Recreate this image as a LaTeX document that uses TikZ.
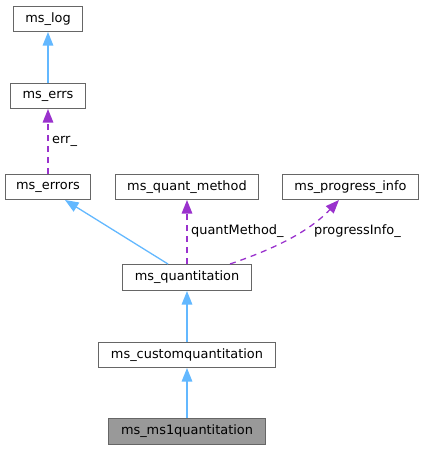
\documentclass[tikz,border=0pt]{standalone}
\usepackage{fontspec}
\setmainfont{DejaVu Sans}
\usetikzlibrary{arrows.meta}
\definecolor{boxgray}{HTML}{666666}
\definecolor{curfill}{HTML}{999999}
\definecolor{inhblue}{HTML}{63B8FF}
\definecolor{usepurple}{HTML}{9A32CD}
\tikzset{
  cls/.style={draw=boxgray, line width=1pt, fill=white, rectangle, inner sep=0pt, minimum height=25pt, font=\fontsize{12.9}{15}\selectfont},
  curcls/.style={cls, fill=curfill},
  inh/.style={draw=inhblue, line width=1.3pt, -{Triangle[length=13.5pt,width=10.5pt]}},
  usage/.style={draw=usepurple, line width=1.3pt, dash pattern=on 6pt off 5pt, -{Triangle[length=13.5pt,width=10.5pt]}},
  elabel/.style={anchor=west, inner sep=0pt, font=\fontsize{12.9}{15}\selectfont}
}
\begin{document}
\begin{tikzpicture}[x=1pt,y=-1pt]
\useasboundingbox (0,0) rectangle (424,451);
\node[cls, minimum width=69pt] (log) at (48,19) {ms\_log};
\node[cls, minimum width=75pt] (errs) at (48,96) {ms\_errs};
\node[cls, minimum width=85pt] (errors) at (48,187) {ms\_errors};
\node[cls, minimum width=143pt] (qm) at (187,187) {ms\_quant\_method};
\node[cls, minimum width=136pt] (pi) at (350.5,187) {ms\_progress\_info};
\node[cls, minimum width=129pt, minimum height=26pt] (quant) at (187,277.5) {ms\_quantitation};
\node[cls, minimum width=177pt] (custom) at (187,355) {ms\_customquantitation};
\node[curcls, minimum width=157pt, minimum height=26pt] (ms1) at (187,431.5) {ms\_ms1quantitation};

\draw[inh] (errs.north) -- (log.south);
\draw[usage] (errors.north) -- (errs.south);
\node[elabel] (lerr) at (52,141) {err\_};
\draw[inh] ([xshift=46pt]quant.north west) -- ([xshift=60pt]errors.south west);
\draw[usage] (quant.north) -- (qm.south);
\node[elabel] (lqm) at (191,231) {quantMethod\_};
\draw[usage] ([xshift=108pt]quant.north west) .. controls (262,253) and (305,236) .. ([xshift=57pt]pi.south west);
\node[elabel] (lpi) at (314,231) {progressInfo\_};
\draw[inh] (custom.north) -- (quant.south);
\draw[inh] (ms1.north) -- (custom.south);
\end{tikzpicture}
\end{document}
